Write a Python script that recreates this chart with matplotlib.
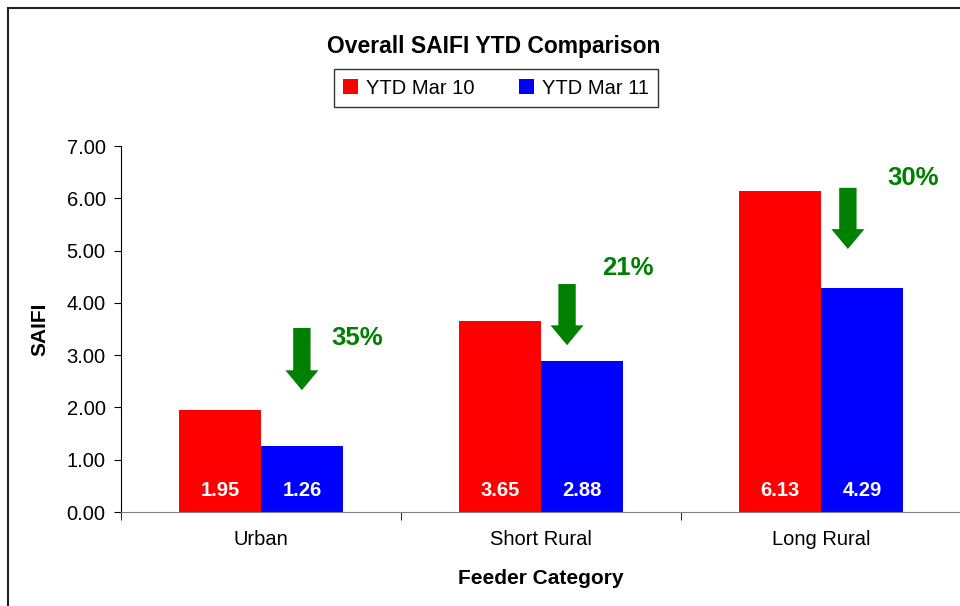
import numpy as np
import matplotlib.pyplot as plt
from matplotlib.patches import FancyArrow, Rectangle

plt.rcParams['font.family'] = ['Liberation Sans', 'DejaVu Sans']

# data
categories = ['Urban', 'Short Rural', 'Long Rural']
ytd_mar10 = [1.95, 3.65, 6.13]
ytd_mar11 = [1.26, 2.88, 4.29]
reductions = ['35%', '21%', '30%']
# arrow top / tip and label position in data units
arrow_x = [0.146, 1.093, 2.096]
arrow_top = [3.52, 4.36, 6.20]
arrow_tip = [2.33, 3.19, 5.03]
label_x = [0.343, 1.31, 2.33]
label_y = [3.33, 4.67, 6.39]

fig = plt.figure(figsize=(9.6, 6.06), dpi=100)
ax = fig.add_axes([121/960, 1 - 512/606, 840/960, 366/606])

x = np.arange(len(categories))
w = 0.293
b1 = ax.bar(x - w/2, ytd_mar10, w, color='#ff0000', label='YTD Mar 10')
b2 = ax.bar(x + w/2, ytd_mar11, w, color='#0000ff', label='YTD Mar 11')

for bars, vals in ((b1, ytd_mar10), (b2, ytd_mar11)):
    for r, v in zip(bars, vals):
        ax.text(r.get_x() + r.get_width()/2, 0.42, f'{v:.2f}', ha='center', va='center',
                color='white', fontsize=14.5, fontweight='bold')

for xa, yt, yb, lx, ly, txt in zip(arrow_x, arrow_top, arrow_tip, label_x, label_y, reductions):
    ax.add_patch(FancyArrow(xa, yt, 0, yb - yt, width=0.062, head_width=0.118,
                            head_length=0.38, length_includes_head=True,
                            color='#008000', lw=0))
    ax.text(lx, ly, txt, color='#008000', fontsize=18.5, fontweight='bold',
            ha='center', va='center')

ax.set_xlim(-0.5, 2.5)
ax.set_ylim(0, 7)
ax.set_yticks(np.arange(0, 8, 1))
ax.set_yticklabels([f'{v:.2f}' for v in range(8)], fontsize=14.5)
ax.set_xticks(x)
ax.set_xticklabels(categories, fontsize=14.5)
ax.tick_params(axis='x', length=0, pad=13)
ax.set_xticks([-0.5, 0.5, 1.5, 2.5], minor=True)
ax.tick_params(axis='x', which='minor', length=6, direction='out', color='black')
ax.tick_params(axis='y', length=5, direction='out', pad=6)
for s in ('top', 'right'):
    ax.spines[s].set_visible(False)
ax.spines['bottom'].set_color('#808080')
ax.spines['left'].set_color('black')

ax.set_ylabel('SAIFI', fontsize=15, fontweight='bold')
ax.yaxis.set_label_coords(-(121 - 49) / 840, 0.5)
ax.set_xlabel('Feeder Category', fontsize=15, fontweight='bold', labelpad=14)

fig.text(494/960, 1 - 46/606, 'Overall SAIFI YTD Comparison', ha='center', va='center',
         fontsize=16.5, fontweight='bold')

leg = fig.legend(handles=[b1, b2], loc='center', bbox_to_anchor=(496/960, 1 - 88/606),
                 ncol=2, fontsize=14.5, frameon=True, fancybox=False, handlelength=0.75,
                 handleheight=0.75, handletextpad=0.4, columnspacing=2.2,
                 borderpad=0.45, borderaxespad=0)
leg.get_frame().set_edgecolor('black')
leg.get_frame().set_linewidth(1.0)

# outer chart border (cropped at right and bottom)
fig.patches.append(Rectangle((8/960, -0.1), 1.1, 1.1 - 8/606, transform=fig.transFigure,
                             fill=False, edgecolor='#222222', lw=1.5, clip_on=False))

fig.savefig('out.png', dpi=100)
